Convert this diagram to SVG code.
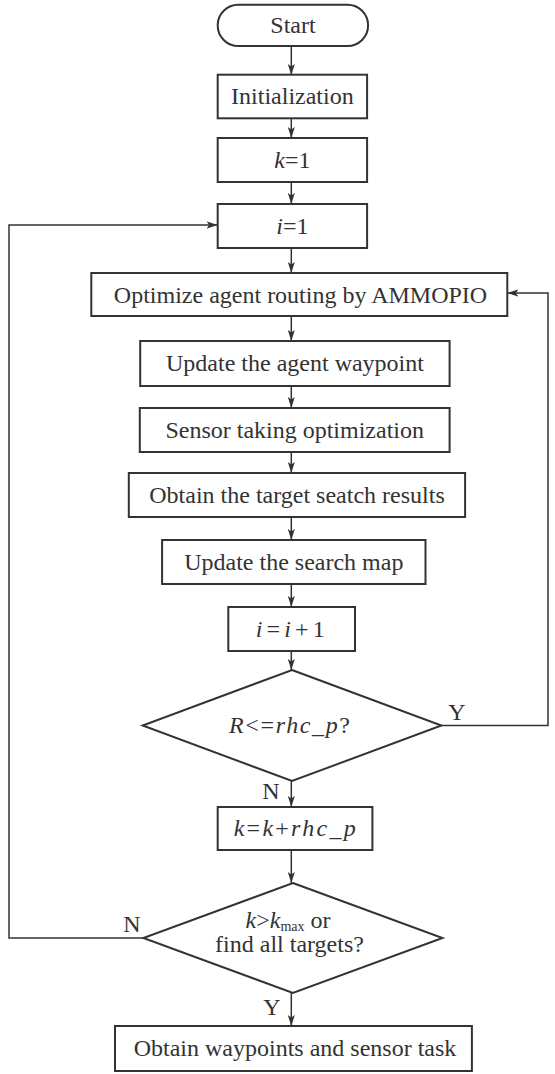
<svg xmlns="http://www.w3.org/2000/svg" width="555" height="1074" viewBox="0 0 555 1074">
<style>
.box{fill:#fff;stroke:#333;stroke-width:2}
.ln{fill:none;stroke:#333;stroke-width:1.5}
.t{font-family:"Liberation Serif","Times New Roman",serif;font-size:24px;fill:#333;text-anchor:middle}
.i{font-style:italic}
</style>
<defs>
<marker id="ah" markerUnits="userSpaceOnUse" markerWidth="12" markerHeight="8" refX="11" refY="4" orient="auto">
<path d="M0,0.5 L11,4 L0,7.5 L2.5,4 Z" fill="#333"/>
</marker>
</defs>
<rect width="555" height="1074" fill="#fff"/>
<g id="connectors">
<line class="ln" x1="291.3" y1="46" x2="291.3" y2="75" marker-end="url(#ah)"/>
<line class="ln" x1="291.3" y1="118" x2="291.3" y2="138" marker-end="url(#ah)"/>
<line class="ln" x1="291.3" y1="182" x2="291.3" y2="204" marker-end="url(#ah)"/>
<line class="ln" x1="291.3" y1="248" x2="291.3" y2="273" marker-end="url(#ah)"/>
<line class="ln" x1="291.3" y1="316" x2="291.3" y2="341" marker-end="url(#ah)"/>
<line class="ln" x1="291.3" y1="386" x2="291.3" y2="408" marker-end="url(#ah)"/>
<line class="ln" x1="291.3" y1="452" x2="291.3" y2="473" marker-end="url(#ah)"/>
<line class="ln" x1="291.3" y1="517" x2="291.3" y2="540" marker-end="url(#ah)"/>
<line class="ln" x1="291.3" y1="584" x2="291.3" y2="607" marker-end="url(#ah)"/>
<line class="ln" x1="291.3" y1="651" x2="291.3" y2="670" marker-end="url(#ah)"/>
<line class="ln" x1="291.3" y1="781" x2="291.3" y2="807" marker-end="url(#ah)"/>
<line class="ln" x1="291.3" y1="850" x2="291.3" y2="883" marker-end="url(#ah)"/>
<line class="ln" x1="291.3" y1="993" x2="291.3" y2="1026" marker-end="url(#ah)"/>
<polyline class="ln" points="441.4,725.5 548,725.5 548,293 507.3,293" marker-end="url(#ah)"/>
<polyline class="ln" points="143.4,938 9,938 9,225 217.7,225" marker-end="url(#ah)"/>
<text class="t" x="457" y="720">Y</text>
<text class="t" x="271" y="799">N</text>
<text class="t" x="132" y="932">N</text>
<text class="t" x="272" y="1015">Y</text>
</g>
<g id="start">
<rect class="box" x="217.7" y="4.7" width="150.4" height="41.3" rx="20.6"/>
<text class="t" x="293" y="32.5">Start</text>
</g>
<g id="init">
<rect class="box" x="217.7" y="74.7" width="149.4" height="43.6"/>
<text class="t" x="292.4" y="104">Initialization</text>
</g>
<g id="k1">
<rect class="box" x="217.7" y="138" width="149.4" height="44"/>
<text class="t" x="292.4" y="167.5"><tspan class="i">k</tspan>=1</text>
</g>
<g id="i1">
<rect class="box" x="217.7" y="204" width="149.4" height="44"/>
<text class="t" x="292.4" y="233.5"><tspan class="i">i</tspan>=1</text>
</g>
<g id="optimize">
<rect class="box" x="91.3" y="273" width="416" height="43"/>
<text class="t" x="300.5" y="302.5">Optimize agent routing by AMMOPIO</text>
</g>
<g id="update-waypoint">
<rect class="box" x="140.2" y="341" width="309.4" height="45"/>
<text class="t" x="295" y="371">Update the agent waypoint</text>
</g>
<g id="sensor">
<rect class="box" x="139.8" y="408" width="309.8" height="44"/>
<text class="t" x="294.7" y="437.5">Sensor taking optimization</text>
</g>
<g id="obtain-results">
<rect class="box" x="128.8" y="473" width="336.3" height="44"/>
<text class="t" x="297" y="502.5">Obtain the target seatch results</text>
</g>
<g id="update-map">
<rect class="box" x="162.1" y="540" width="263.4" height="44"/>
<text class="t" x="293.8" y="569.5">Update the search map</text>
</g>
<g id="i-inc">
<rect class="box" x="228.3" y="607" width="126.7" height="44"/>
<text class="t" x="290.3" y="636.5" textLength="69" lengthAdjust="spacing"><tspan class="i">i</tspan>=<tspan class="i">i</tspan>+1</text>
</g>
<g id="decision-r">
<polygon class="box" points="292,670 441.4,725.5 292,781 142.7,725.5"/>
<text class="t" x="289.5" y="733" textLength="121" lengthAdjust="spacing"><tspan class="i">R</tspan>&lt;=<tspan class="i">rhc_p</tspan>?</text>
</g>
<g id="k-inc">
<rect class="box" x="217.7" y="807" width="154.7" height="43"/>
<text class="t" x="294.7" y="836" textLength="122" lengthAdjust="spacing"><tspan class="i">k</tspan>=<tspan class="i">k</tspan>+<tspan class="i">rhc_p</tspan></text>
</g>
<g id="decision-k">
<polygon class="box" points="292.9,883 442.5,938 292.9,993 143.4,938"/>
<text class="t" x="288" y="928"><tspan class="i">k</tspan>&gt;<tspan class="i">k</tspan><tspan font-size="14" dy="3">max</tspan><tspan dy="-3"> or</tspan></text>
<text class="t" x="289.5" y="952">find all targets?</text>
</g>
<g id="final">
<rect class="box" x="115" y="1026" width="356.9" height="45"/>
<text class="t" x="295" y="1056">Obtain waypoints and sensor task</text>
</g>
</svg>
